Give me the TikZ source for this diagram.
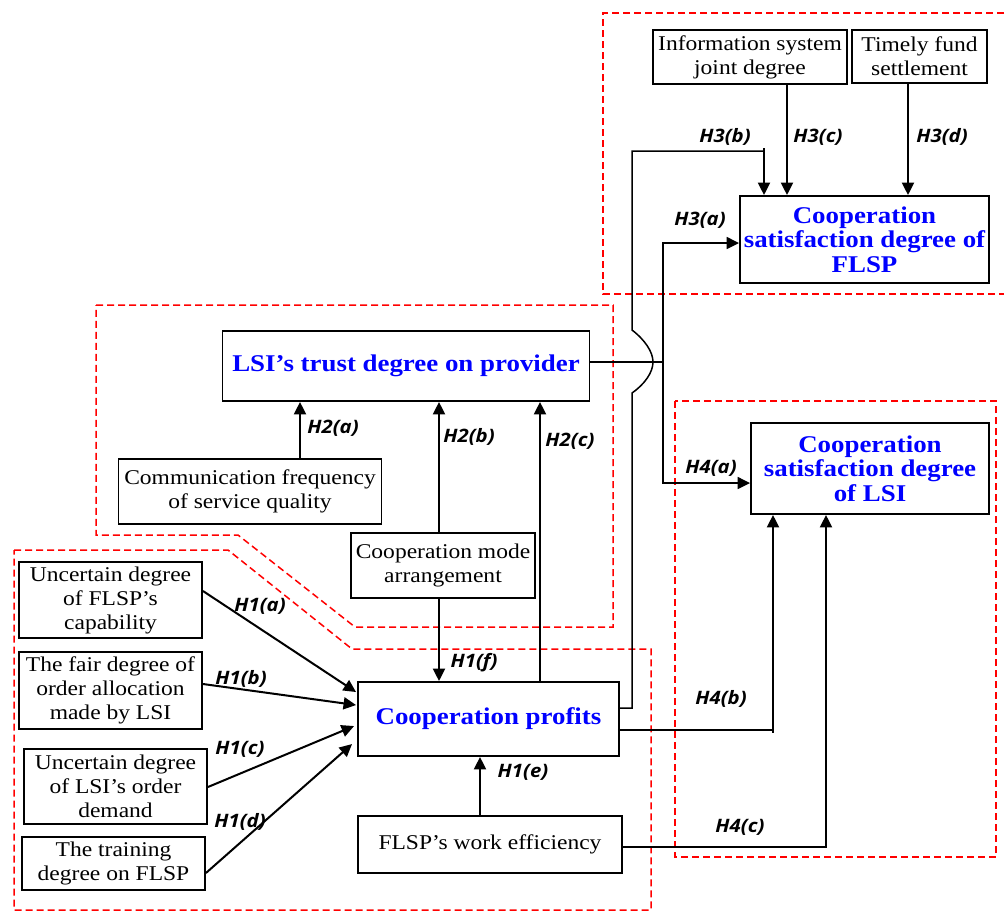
\documentclass[tikz,border=0pt]{standalone}
\usepackage{fontspec}
\usetikzlibrary{arrows.meta,calc}
\newfontfamily\boxfont{Liberation Serif}[FakeStretch=1.12]
\newfontfamily\labfont{Open Sans}[FakeStretch=1.1]
\begin{document}
\begin{tikzpicture}[x=1pt,y=-1pt,
  box/.style={draw=black,line width=1.9pt,fill=white,inner sep=0pt,align=center,
    font=\boxfont\fontsize{21}{24}\selectfont},
  ttl/.style={box,text=blue,font=\boxfont\bfseries\fontsize{24}{24.5}\selectfont},
  arr/.style={line width=2pt,-{Triangle[length=12.5pt,width=12pt]}},
  conn/.style={line width=1.5pt},
  lab/.style={font=\labfont\bfseries\itshape\fontsize{18.5}{19}\selectfont,inner sep=0pt},
  region/.style={draw=red,line width=1.5pt,dash pattern=on 7pt off 4pt}]
\useasboundingbox (0,0) rectangle (1005,911);
\fill[white] (0,0) rectangle (1005,911);

% dashed regions
\draw[region] (1004,13) -- (603,13) -- (603,294) -- (1004,294);
\draw[region] (96,305) -- (613,305) -- (613,627) -- (355,627) -- (238,535) -- (96,535) -- cycle;
\draw[region] (14,550) -- (228,550) -- (352,649) -- (651,649) -- (651,910) -- (14,910) -- cycle;
\draw[region] (675,401) rectangle (996,857);

% nodes
\node[box,minimum width=194pt,minimum height=54pt] (info) at (750,57) {Information system\\joint degree};
\node[box,minimum width=135pt,minimum height=53pt] (fund) at (919.5,56.5) {Timely fund\\settlement};
\node[ttl,minimum width=249pt,minimum height=87pt] (flsp) at (864.5,239.5) {Cooperation\\satisfaction degree of\\FLSP};
\node[ttl,minimum width=367pt,minimum height=70pt] (trust) at (406,366) {LSI’s trust degree on provider};
\node[box,minimum width=263pt,minimum height=65pt] (comm) at (250,491.5) {Communication frequency\\of service quality};
\node[box,minimum width=184pt,minimum height=65pt] (mode) at (443,565.5) {Cooperation mode\\arrangement};
\node[ttl,minimum width=238pt,minimum height=91pt] (lsisat) at (870,468.5) {Cooperation\\satisfaction degree\\of LSI};
\node[ttl,minimum width=261pt,minimum height=74pt] (profits) at (488.5,719) {Cooperation profits};
\node[box,minimum width=264pt,minimum height=57pt] (work) at (490,844.5) {FLSP’s work efficiency};
\node[box,minimum width=183pt,minimum height=76pt] (u1) at (110.5,600) {Uncertain degree\\of FLSP’s\\capability};
\node[box,minimum width=183pt,minimum height=77pt] (u2) at (110.5,690.5) {The fair degree of\\order allocation\\made by LSI};
\node[box,minimum width=183pt,minimum height=75pt] (u3) at (115.5,786.5) {Uncertain degree\\of LSI’s order\\demand};
\node[box,minimum width=183pt,minimum height=53pt] (u4) at (113.5,863.5) {The training\\degree on FLSP};

% H1 connectors
\draw[arr] ($(u1.east)+(0,-9)$) -- ($(profits.north west)+(-1,11)$);
\draw[arr] ($(u2.east)+(0,-6.5)$) -- ($(profits.north west)+(-1,24)$);
\draw[arr] ($(u3.east)+(0,0.5)$) -- ($(profits.north west)+(-3,45)$);
\draw[arr] ($(u4.east)+(0,9.5)$) -- ($(profits.north west)+(-5,63)$);
\coordinate (e1) at ($(work.north)+(-10,0)$);
\draw[arr] (e1) -- (e1 |- profits.south);
\coordinate (f1) at ($(mode.south)+(-4,0)$);
\draw[arr] (f1) -- (f1 |- profits.north);

% H2 connectors
\coordinate (a2) at ($(comm.north)+(50,0)$);
\draw[arr] (a2) -- (a2 |- trust.south);
\coordinate (b2) at ($(mode.north)+(-4,0)$);
\draw[arr] (b2) -- (b2 |- trust.south);
\coordinate (c2) at ($(profits.north)+(51.5,0)$);
\draw[arr] (c2) -- (c2 |- trust.south);

% H3 connectors
\coordinate (j) at (663,362);
\draw[conn] ($(trust.east)+(0,-4)$) -- (j);
\draw[arr,line width=1.7pt] (j) |- ($(flsp.west)+(0,3.5)$);
\coordinate (s3) at ($(profits.east)+(0,-11)$);
\coordinate (b3) at ($(flsp.north)+(-100.5,0)$);
\draw[conn] (s3) -- (632,708) -- (632,393)
  .. controls (645,384) and (653,372) .. (653,362)
  .. controls (653,352) and (645,340) .. (632,330)
  -- (632,151) -- (b3 |- 0,151);
\draw[arr] (b3 |- 0,148) -- (b3);
\coordinate (c3) at ($(info.south)+(37,0)$);
\draw[arr] (c3) -- (c3 |- flsp.north);
\coordinate (d3) at ($(fund.south)+(-11.5,0)$);
\draw[arr] (d3) -- (d3 |- flsp.north);

% H4 connectors
\draw[arr,line width=1.7pt] (j) |- ($(lsisat.west)+(0,14.5)$);
\coordinate (b4) at ($(lsisat.south)+(-97,0)$);
\draw[conn] ($(profits.east)+(-2,11)$) -- (b4 |- 0,730) -- (b4 |- 0,733);
\draw[arr] (b4 |- 0,731) -- (b4);
\coordinate (c4) at ($(lsisat.south)+(-44,0)$);
\draw[conn] ($(work.east)+(0,2.5)$) -- (c4 |- 0,847);
\draw[arr] (c4 |- 0,848) -- (c4);

% labels
\node[lab] (l1a) at (260,606) {H1(a)};
\node[lab] (l1b) at (241,679) {H1(b)};
\node[lab] (l1c) at (240,749) {H1(c)};
\node[lab] (l1d) at (240,822) {H1(d)};
\node[lab] (l1e) at (523,772) {H1(e)};
\node[lab] (l1f) at (474,663) {H1(f)};
\node[lab] (l2a) at (333,428) {H2(a)};
\node[lab] (l2b) at (469,437) {H2(b)};
\node[lab] (l2c) at (570,441) {H2(c)};
\node[lab] (l3a) at (700,220) {H3(a)};
\node[lab] (l3b) at (725,137) {H3(b)};
\node[lab] (l3c) at (818,137) {H3(c)};
\node[lab] (l3d) at (942,137) {H3(d)};
\node[lab] (l4a) at (711,468) {H4(a)};
\node[lab] (l4b) at (721,699) {H4(b)};
\node[lab] (l4c) at (740,827) {H4(c)};
\end{tikzpicture}
\end{document}
